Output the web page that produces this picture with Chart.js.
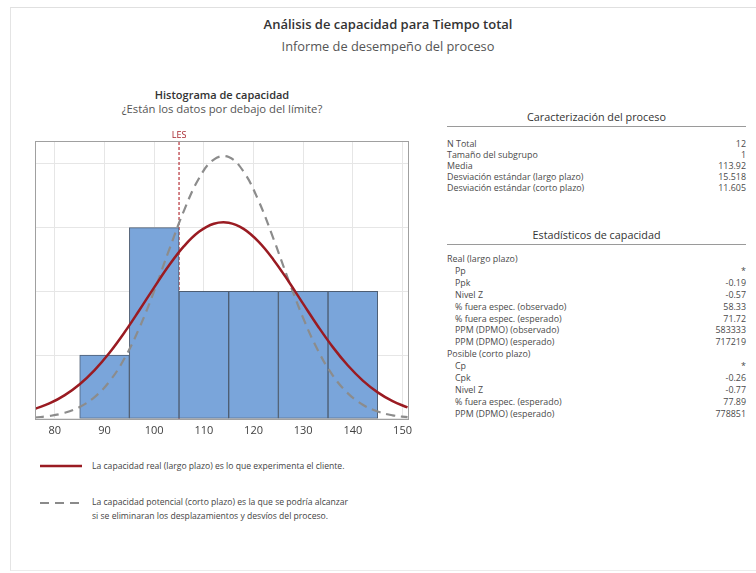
<!DOCTYPE html>
<html>
<head>
<meta charset="utf-8">
<script src="https://cdn.jsdelivr.net/npm/chart.js@4.4.1/dist/chart.umd.min.js"></script>
<style>
  html, body { margin:0; padding:0; background:#fff; }
  body { width:756px; height:573px; position:relative; overflow:hidden; font-family:"Open Sans","Noto Sans",sans-serif; color:#404040; }
  .abs { position:absolute; }
  .frame { position:absolute; left:10px; top:7px; width:760px; height:562px; border-left:1px solid #e4e4e4; border-top:1px solid #e0e0e0; border-bottom:1px solid #ececec; }
  .t1 { left:0; width:776px; top:15px; text-align:center; font-size:13px; font-weight:600; color:#333; }
  .t2 { left:0; width:776px; top:37px; text-align:center; font-size:12.8px; color:#555; }
  .h1 { left:22px; width:400px; top:87px; text-align:center; font-size:11px; font-weight:600; color:#333; }
  .h2 { left:22px; width:400px; top:101px; text-align:center; font-size:11.3px; color:#555; }
  .tbl { position:absolute; left:447px; width:299px; font-size:8.9px; color:#4a4a4a; }
  .tbl .ttl { text-align:center; font-size:10.8px; color:#333; border-bottom:1px solid #9a9a9a; padding-bottom:2px; }
  .row { display:flex; justify-content:space-between; white-space:nowrap; }
  .row.ind span:first-child { padding-left:8px; }
  .leg { font-size:8.6px; color:#444; line-height:14px; }
  #wrap { position:absolute; left:15px; top:120px; width:414px; height:337px; }
</style>
</head>
<body>
<div class="frame"></div>
<div class="abs t1">Análisis de capacidad para Tiempo total</div>
<div class="abs t2">Informe de desempeño del proceso</div>
<div class="abs h1">Histograma de capacidad</div>
<div class="abs h2">¿Están los datos por debajo del límite?</div>
<div id="wrap"><canvas id="c"></canvas></div>

<div class="tbl" id="tbl1" style="top:109px;"></div>
<div class="tbl" id="tbl2" style="top:227px;"></div>

<svg class="abs" style="left:38px;top:460px;" width="50" height="50">
  <line x1="2" y1="6" x2="44" y2="6" stroke="#9a1b22" stroke-width="2.5"/>
  <line x1="2" y1="43" x2="44" y2="43" stroke="#8a8a8a" stroke-width="2" stroke-dasharray="9,6"/>
</svg>
<div class="abs leg" style="left:92px;top:459px;">La capacidad real (largo plazo) es lo que experimenta el cliente.</div>
<div class="abs leg" style="left:92px;top:495px;">La capacidad potencial (corto plazo) es la que se podría alcanzar<br>si se eliminaran los desplazamientos y desvíos del proceso.</div>

<script>
// ---- Data ----
const binCenters = [90, 100, 110, 120, 130, 140];
const binCounts  = [1, 3, 2, 2, 2, 2];
const xTicks     = [80, 90, 100, 110, 120, 130, 140, 150];
const lesValue   = 105;
// fitted-curve heights (frequency units)
const curveX     = [76, 79, 82, 85, 88, 91, 94, 97, 100, 103, 106, 109, 112, 115, 118, 121, 124, 127, 130, 133, 136, 139, 142, 145, 148, 151];
const longTerm   = [0.156, 0.245, 0.372, 0.543, 0.765, 1.037, 1.354, 1.703, 2.063, 2.409, 2.709, 2.934, 3.062, 3.078, 2.980, 2.780, 2.498, 2.163, 1.804, 1.449, 1.121, 0.836, 0.600, 0.415, 0.277, 0.178];
const shortTerm  = [0.020, 0.045, 0.094, 0.185, 0.341, 0.587, 0.945, 1.425, 2.009, 2.650, 3.268, 3.771, 4.069, 4.108, 3.878, 3.425, 2.829, 2.186, 1.580, 1.068, 0.675, 0.399, 0.221, 0.114, 0.055, 0.025];

const procLabels = ["N Total", "Tamaño del subgrupo", "Media", "Desviación estándar (largo plazo)", "Desviación estándar (corto plazo)"];
const procValues = ["12", "1", "113.92", "15.518", "11.605"];
const capLabels  = ["Real (largo plazo)", "Pp", "Ppk", "Nivel Z", "% fuera espec. (observado)", "% fuera espec. (esperado)", "PPM (DPMO) (observado)", "PPM (DPMO) (esperado)",
                    "Posible (corto plazo)", "Cp", "Cpk", "Nivel Z", "% fuera espec. (esperado)", "PPM (DPMO) (esperado)"];
const capValues  = ["", "*", "-0.19", "-0.57", "58.33", "71.72", "583333", "717219", "", "*", "-0.26", "-0.77", "77.89", "778851"];
const capIndent  = [false, true, true, true, true, true, true, true, false, true, true, true, true, true];

// ---- Tables ----
function buildTable(el, title, labels, values, indent, rowH, gap) {
  let h = '<div class="ttl">' + title + '</div><div style="height:' + gap + 'px"></div>';
  labels.forEach((l, i) => {
    h += '<div class="row' + (indent && indent[i] ? ' ind' : '') + '" style="line-height:' + rowH + 'px;height:' + rowH + 'px"><span>' + l + '</span><span>' + values[i] + '</span></div>';
  });
  el.innerHTML = h;
}
buildTable(document.getElementById('tbl1'), 'Caracterización del proceso', procLabels, procValues, null, 11, 11);
buildTable(document.getElementById('tbl2'), 'Estadísticos de capacidad', capLabels, capValues, capIndent, 11.92, 8);

// ---- Chart ----
const lesPlugin = {
  id: 'les',
  beforeDatasetsDraw(chart) {
    const { ctx, chartArea, scales } = chart;
    const x = scales.x.getPixelForValue(lesValue);
    ctx.save();
    ctx.strokeStyle = '#b8323a';
    ctx.lineWidth = 1.2;
    ctx.setLineDash([3, 2]);
    ctx.beginPath();
    ctx.moveTo(x, chartArea.top + 1);
    ctx.lineTo(x, chartArea.bottom);
    ctx.stroke();
    ctx.restore();
  },
  afterDraw(chart) {
    const { ctx, chartArea, scales } = chart;
    const x = scales.x.getPixelForValue(lesValue);
    ctx.save();
    ctx.fillStyle = '#a8262e';
    ctx.font = '9px "Open Sans"';
    ctx.textAlign = 'center';
    ctx.textBaseline = 'middle';
    ctx.fillText('LES', x, chartArea.top - 6);
    ctx.strokeStyle = '#a0a0a0';
    ctx.lineWidth = 1;
    ctx.strokeRect(Math.round(chartArea.left) + 0.5, Math.round(chartArea.top) + 0.5,
                   Math.round(chartArea.right - chartArea.left) - 1, Math.round(chartArea.bottom - chartArea.top));
    ctx.restore();
  }
};

new Chart(document.getElementById('c'), {
  type: 'bar',
  data: {
    datasets: [
      {
        type: 'line',
        data: curveX.map((x, i) => ({ x, y: longTerm[i] })),
        borderColor: '#9a1b22',
        borderWidth: 2.5,
        pointRadius: 0,
        tension: 0.4,
        order: 1
      },
      {
        type: 'line',
        data: curveX.map((x, i) => ({ x, y: shortTerm[i] })),
        borderColor: '#8c8c8c',
        borderWidth: 2.2,
        borderDash: [9, 6],
        pointRadius: 0,
        tension: 0.4,
        order: 2
      },
      {
        type: 'bar',
        data: binCenters.map((x, i) => ({ x, y: binCounts[i] })),
        backgroundColor: '#7aa5da',
        borderColor: '#4d5d72',
        borderWidth: 1,
        borderSkipped: false,
        barPercentage: 1,
        categoryPercentage: 1,
        order: 3
      }
    ]
  },
  options: {
    responsive: true,
    maintainAspectRatio: false,
    animation: false,
    layout: { padding: { left: 20, right: 20, top: 21, bottom: 15 } },
    plugins: { legend: { display: false }, tooltip: { enabled: false } },
    scales: {
      x: {
        type: 'linear',
        min: 76,
        max: 151.3,
        offset: false,
        afterBuildTicks: (s) => { s.ticks = xTicks.map(v => ({ value: v })); },
        grid: { color: '#e6e6e6', drawTicks: false, offset: false },
        border: { display: false },
        ticks: { padding: 5, color: '#404040', font: { family: 'Open Sans', size: 11 }, maxRotation: 0, autoSkip: false }
      },
      y: {
        min: 0,
        max: 4.36,
        afterBuildTicks: (s) => { s.ticks = [0, 1, 2, 3, 4].map(v => ({ value: v })); },
        grid: { color: '#e6e6e6', drawTicks: false },
        border: { display: false },
        ticks: { display: false }
      }
    }
  },
  plugins: [lesPlugin]
});
</script>
</body>
</html>
